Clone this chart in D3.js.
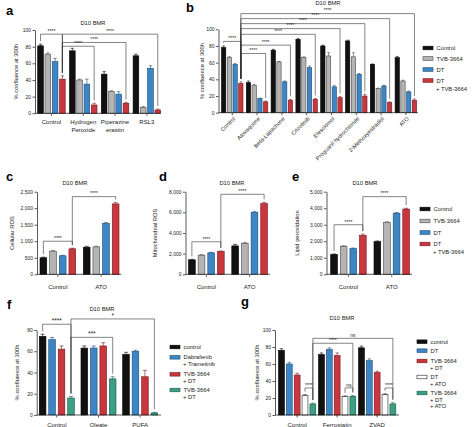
<!DOCTYPE html>
<html><head><meta charset="utf-8">
<script src="https://cdn.jsdelivr.net/npm/d3@7"></script>
<style>
body{margin:0;background:#fff}
svg{display:block;font-family:"Liberation Sans",Arial,sans-serif}
</style>
</head><body>
<svg id="chart" width="474" height="427"></svg>
<script>
// ---------- Panel a ----------
const aCategories = ["Control", "Hydrogen\nPeroxide", "Piperazine\nerastin", "RSL3"];
const aControl = [81, 75, 47, 69];
const aTVB = [71, 40, 26, 7];
const aDT = [62, 35, 23, 54];
const aDTTVB = [41, 10, 12, 4];
const aErrControl = [2, 3, 3, 2];
const aErrTVB = [1.5, 1, 1, 1];
const aErrDT = [4, 6, 3, 3];
const aErrDTTVB = [4, 2, 1, 1];
const aYTicks = [0, 20, 40, 60, 80, 100];
const aBrackets = [[0,0,0,3,95,"****"],[0,3,3,3,95,"****"],[0,3,2,3,85,"****"],[0,3,1,3,80.5,"****"]];

// ---------- Panel b ----------
const bCategories = ["Control","Atovaquone","Beta-Lapachone","Crizotinib","Elesclomol","Proguanil hydrochloride","2-Methoxyestradiol","ATO"];
const bControl = [78, 36, 75, 88, 80, 86, 58, 66];
const bTVB = [66, 33, 61, 66, 68, 67, 29, 38];
const bDT = [58, 17, 37, 54, 31, 46, 32, 25];
const bDTTVB = [35, 13, 15, 16, 18, 20, 12, 15];
const bErrControl = [2, 2, 1, 1, 1, 1, 0.5, 1.5];
const bErrTVB = [1.5, 1, 0.5, 1, 4, 5, 0.5, 1];
const bErrDT = [1, 0.5, 1, 2, 1.5, 1, 1, 1];
const bErrDTTVB = [2, 1, 1, 1, 1.5, 2, 1, 1.5];
const bYTicks = [0, 20, 40, 60, 80, 100];
const bBrackets = [[0,0,0,3,85.5,"****"],[0,3,1,3,71,"****"],[0,3,2,3,81,"****"],[0,3,3,3,94,"****"],
  [0,3,4,3,100.8,"****"],[0,3,5,3,106.8,"****"],[0,3,6,3,112.8,"****"],[0,3,7,3,118.8,"****"]];
const legendABE = ["Control", "TVB-3664", "DT", "DT\n+ TVB-3664"];

// ---------- Panel c ----------
const cdeCategories = ["Control", "ATO"];
const cControl = [500, 820];
const cTVB = [700, 830];
const cDT = [560, 1540];
const cDTTVB = [770, 2130];
const cErr = [[20, 25], [20, 20], [15, 25], [20, 40]];
const cYTicks = [0, 500, 1000, 1500, 2000, 2500];
const cBrackets = [[0,0,0,3,1000,"****"],[0,3,1,3,2350,"****"]];

// ---------- Panel d ----------
const dControl = [1400, 2750];
const dTVB = [1850, 3000];
const dDT = [2080, 6000];
const dDTTVB = [2200, 6850];
const dErr = [[50, 150], [60, 80], [50, 90], [60, 120]];
const dYTicks = [0, 2000, 4000, 6000, 8000];
const dBrackets = [[0,0,0,3,3150,"****"],[0,3,1,3,7750,"****"]];

// ---------- Panel e ----------
const eControl = [1200, 1980];
const eTVB = [1700, 3150];
const eDT = [1550, 3700];
const eDTTVB = [2350, 3950];
const eErr = [[30, 40], [30, 30], [40, 40], [80, 50]];
const eYTicks = [0, 1000, 2000, 3000, 4000, 5000];
const eBrackets = [[0,0,0,3,3000,"****"],[0,3,1,3,4700,"****"]];

// ---------- Panel f ----------
const fCategories = ["Control", "Oleate", "PUFA"];
const fControl = [74, 63, 57];
const fDabTram = [71, 63, 60];
const fTVBDTred = [62, 65, 36];
const fTVBDTgreen = [16, 34, 2];
const fErr = [[2, 2, 2], [2, 2, 1], [3, 3, 6], [1.5, 2, 0.5]];
const fYTicks = [0, 20, 40, 60, 80];
const fBrackets = [[0,0,0,3,85.4,"****"],[0,3,2,3,90.4,"*"],[0,3,1,3,73.1,"***"]];
const fLegend = ["control", "Dabrafenib\n+ Trametinib", "TVB-3664\n+ DT", "TVB-3664\n+ DT"];

// ---------- Panel g ----------
const gCategories = ["Control", "Ferrostatin", "ZVAD"];
const gControl = [76, 71, 79];
const gDT = [60, 77, 64];
const gTVBDT = [47, 70, 50];
const gDTATO = [23, 22, 24];
const gTVBDTATO = [13, 22, 13];
const gErr = [[2, 2, 2], [2, 2, 2], [2, 3, 1.5], [1, 0.5, 1], [1, 1, 1.5]];
const gYTicks = [0, 20, 40, 60, 80, 100];
const gBrackets = [[0,3,0,4,31.8,"****"],[1,3,1,4,31.8,"ns"],[2,3,2,4,31.8,"****"],[0,4,1,4,84.4,"****"],[0,4,2,4,90.2,"ns"]];
const gLegend = ["control", "DT", "TVB-3664\n+ DT", "DT\n+ ATO", "TVB-3664\n+ DT\n+ ATO"];

// ---------- styles ----------
const C = {
  black: {fill: "#111111", stroke: "#000000"},
  grey:  {fill: "#b4b4b4", stroke: "#4a4a4a"},
  blue:  {fill: "#3d86c6", stroke: "#1d4a72"},
  red:   {fill: "#c9363d", stroke: "#6e1a1e"},
  green: {fill: "#3a9f84", stroke: "#1b5a48"},
  white: {fill: "#ffffff", stroke: "#222222"}
};
const TXT = "#222";
const svg = d3.select("#chart");

function drawPanel(p) {
  const g = svg.append("g");
  const n = p.categories.length;
  const pad = (p.step - p.groupW) / p.step;
  const x = d3.scaleBand().domain(d3.range(n))
    .range([p.x0, p.x0 + p.step * (n - pad)]).paddingInner(pad).paddingOuter(0);
  const ns = p.series.length;
  const xi = d3.scaleBand().domain(d3.range(ns)).range([0, x.bandwidth()])
    .paddingInner(p.barPad).paddingOuter(0);
  const y = d3.scaleLinear().domain([0, p.yMax]).range([p.yBottom, p.yTop]);
  const bw = xi.bandwidth();
  const cx = (gi, si) => x(gi) + xi(si) + bw / 2;

  // bars + error bars
  p.series.forEach((s, si) => {
    const st = s.style;
    g.append("g").selectAll("rect").data(s.values).join("rect")
      .attr("x", (d, i) => x(i) + xi(si))
      .attr("y", d => y(d))
      .attr("width", bw)
      .attr("height", d => y(0) - y(d))
      .attr("fill", st.fill).attr("stroke", st.stroke).attr("stroke-width", 0.6);
    const eg = g.append("g").attr("stroke", st.stroke).attr("stroke-width", 0.6);
    s.values.forEach((v, i) => {
      const e = s.errors[i];
      const xc = cx(i, si);
      eg.append("line").attr("x1", xc).attr("x2", xc).attr("y1", y(v)).attr("y2", y(v + e));
      eg.append("line").attr("x1", xc - bw * 0.3).attr("x2", xc + bw * 0.3).attr("y1", y(v + e)).attr("y2", y(v + e));
    });
  });

  // y axis
  const ya = g.append("g").attr("transform", `translate(${p.axisX},0)`)
    .call(d3.axisLeft(y).tickValues(p.yTicks).tickSize(2.5).tickSizeOuter(0).tickPadding(1.5));
  ya.selectAll("path,line").attr("stroke", "#111").attr("stroke-width", 0.7);
  ya.selectAll("text").attr("font-size", 5).attr("fill", TXT).attr("font-family", "Liberation Sans, Arial, sans-serif");

  // x axis line + ticks
  g.append("line").attr("x1", p.axisX).attr("x2", p.axisEnd).attr("y1", y(0)).attr("y2", y(0))
    .attr("stroke", "#111").attr("stroke-width", 0.7);
  const xa = g.append("g").attr("transform", `translate(0,${y(0)})`)
    .call(d3.axisBottom(x).tickSize(2.5).tickSizeOuter(0).tickFormat(""));
  xa.select(".domain").remove();
  xa.selectAll(".tick").attr("transform", d => `translate(${x(d) + x.bandwidth() / 2},0)`);
  xa.selectAll("line").attr("stroke", "#111").attr("stroke-width", 0.7);

  // category labels
  p.categories.forEach((cat, i) => {
    const tx = x(i) + x.bandwidth() / 2;
    if (p.rotate) {
      g.append("text").attr("transform", `translate(${tx + 2},${y(0) + 5}) rotate(-45)`)
        .attr("text-anchor", "end").attr("dy", "0.35em")
        .attr("font-size", 5.6).attr("fill", TXT).text(cat);
    } else {
      const t = g.append("text").attr("text-anchor", "middle").attr("font-size", 6).attr("fill", TXT);
      cat.split("\n").forEach((line, li) => {
        t.append("tspan").attr("x", tx).attr("y", y(0) + p.labelOffset + li * 7.5).attr("dy", "0.35em").text(line);
      });
    }
  });

  // significance brackets
  const bg = g.append("g").attr("stroke", "#333").attr("stroke-width", 0.6).attr("fill", "none");
  p.brackets.forEach(([g1, s1, g2, s2, lvl, lab]) => {
    const x1 = cx(g1, s1), x2 = cx(g2, s2), yl = y(lvl);
    const top1 = y(p.series[s1].values[g1] + p.series[s1].errors[g1]) - 3;
    const top2 = y(p.series[s2].values[g2] + p.series[s2].errors[g2]) - 3;
    bg.append("path").attr("d", `M${x1},${top1}V${yl}H${x2}V${top2}`);
    g.append("text").attr("x", (x1 + x2) / 2).attr("y", yl - 1.2)
      .attr("text-anchor", "middle").attr("font-size", p.starSize || 5).attr("fill", TXT).text(lab);
  });

  // titles
  g.append("text").attr("x", p.titleX).attr("y", p.titleY).attr("text-anchor", "middle")
    .attr("dy", "0.35em").attr("font-size", 5.8).attr("fill", TXT).text("D10 BMR");
  g.append("text").attr("transform", `translate(${p.ylabelX},${(p.yTop + p.yBottom) / 2}) rotate(-90)`)
    .attr("text-anchor", "middle").attr("dy", "0.35em").attr("font-size", 5.8).attr("fill", TXT).text(p.ylabel);
  g.append("text").attr("x", p.letterX).attr("y", p.letterY).attr("font-size", 13)
    .attr("font-weight", "bold").attr("fill", "#000").text(p.letter);

  // legend
  if (p.legend) {
    const L = p.legend;
    L.labels.forEach((lab, i) => {
      const st = p.series[i].style;
      const yc = L.ys[i];
      g.append("rect").attr("x", L.x).attr("y", yc - 1.8).attr("width", 10).attr("height", 3.6)
        .attr("fill", st.fill).attr("stroke", st.stroke).attr("stroke-width", 0.6);
      const t = g.append("text").attr("font-size", 5.8).attr("fill", TXT);
      lab.split("\n").forEach((line, li) => {
        t.append("tspan").attr("x", L.x + 13.5 + (li > 0 ? -0.5 : 0)).attr("y", yc + li * L.lh).attr("dy", "0.35em").text(line);
      });
    });
  }
}

const ser4 = (v0, v1, v2, v3, e0, e1, e2, e3) => [
  {values: v0, errors: e0, style: C.black},
  {values: v1, errors: e1, style: C.grey},
  {values: v2, errors: e2, style: C.blue},
  {values: v3, errors: e3, style: C.red}
];

// a
drawPanel({categories: aCategories, series: ser4(aControl, aTVB, aDT, aDTTVB, aErrControl, aErrTVB, aErrDT, aErrDTTVB),
  x0: 37.7, step: 31.8, groupW: 27.5, barPad: 0.22, yMax: 100, yTop: 30, yBottom: 113.3, yTicks: aYTicks,
  axisX: 35, axisEnd: 161, labelOffset: 9, brackets: aBrackets, titleX: 93, titleY: 23,
  ylabel: "% confluence at 300h", ylabelX: 16, letter: "a", letterX: 6, letterY: 15});

// b
drawPanel({categories: bCategories, series: ser4(bControl, bTVB, bDT, bDTTVB, bErrControl, bErrTVB, bErrDT, bErrDTTVB),
  x0: 221.5, step: 24.8, groupW: 21.5, barPad: 0.25, yMax: 100, yTop: 29.3, yBottom: 112.7, yTicks: bYTicks,
  axisX: 218.5, axisEnd: 418, rotate: true, brackets: bBrackets, titleX: 328, titleY: 2.5,
  ylabel: "% confluence at 300h", ylabelX: 202, letter: "b", letterX: 186, letterY: 12,
  legend: {labels: legendABE, x: 423, ys: [48, 58.5, 69.5, 80.5], lh: 8}});

// c
drawPanel({categories: cdeCategories, series: ser4(cControl, cTVB, cDT, cDTTVB, cErr[0], cErr[1], cErr[2], cErr[3]),
  x0: 40, step: 43.3, groupW: 35.7, barPad: 0.3, yMax: 2500, yTop: 191.7, yBottom: 274.3, yTicks: cYTicks,
  axisX: 37, axisEnd: 121, labelOffset: 12.4, brackets: cBrackets, titleX: 75, titleY: 183,
  ylabel: "Cellular ROS", ylabelX: 12, letter: "c", letterX: 6, letterY: 181});

// d
drawPanel({categories: cdeCategories, series: ser4(dControl, dTVB, dDT, dDTTVB, dErr[0], dErr[1], dErr[2], dErr[3]),
  x0: 188.5, step: 43.3, groupW: 35.7, barPad: 0.3, yMax: 8000, yTop: 191.7, yBottom: 274.3, yTicks: dYTicks,
  axisX: 185.5, axisEnd: 270, labelOffset: 12.4, brackets: dBrackets, titleX: 232, titleY: 183,
  ylabel: "Mitochondrial ROS", ylabelX: 155, letter: "d", letterX: 159, letterY: 181});

// e
drawPanel({categories: cdeCategories, series: ser4(eControl, eTVB, eDT, eDTTVB, eErr[0], eErr[1], eErr[2], eErr[3]),
  x0: 330.7, step: 43.3, groupW: 35.5, barPad: 0.3, yMax: 5000, yTop: 191.7, yBottom: 274.3, yTicks: eYTicks,
  axisX: 326.5, axisEnd: 412, labelOffset: 12.4, brackets: eBrackets, titleX: 365, titleY: 183,
  ylabel: "Lipid peroxidation", ylabelX: 297, letter: "e", letterX: 292, letterY: 181,
  legend: {labels: legendABE, x: 420, ys: [209, 221, 232.5, 244], lh: 8}});

// f
drawPanel({categories: fCategories, series: [
    {values: fControl, errors: fErr[0], style: C.black},
    {values: fDabTram, errors: fErr[1], style: C.blue},
    {values: fTVBDTred, errors: fErr[2], style: C.red},
    {values: fTVBDTgreen, errors: fErr[3], style: C.green}],
  x0: 39.3, step: 41.7, groupW: 35, barPad: 0.3, yMax: 80, yTop: 330, yBottom: 415, yTicks: fYTicks,
  axisX: 36.7, axisEnd: 161, labelOffset: 9.5, brackets: fBrackets, starSize: 6.5, titleX: 102, titleY: 309,
  ylabel: "% confluence at 300h", ylabelX: 17, letter: "f", letterX: 7, letterY: 309,
  legend: {labels: fLegend, x: 170, ys: [347, 357.3, 374.3, 390], lh: 6.7}});

// g
drawPanel({categories: gCategories, series: [
    {values: gControl, errors: gErr[0], style: C.black},
    {values: gDT, errors: gErr[1], style: C.blue},
    {values: gTVBDT, errors: gErr[2], style: C.red},
    {values: gDTATO, errors: gErr[3], style: C.white},
    {values: gTVBDTATO, errors: gErr[4], style: C.green}],
  x0: 278.5, step: 40, groupW: 37.3, barPad: 0.25, yMax: 100, yTop: 330, yBottom: 415, yTicks: gYTicks,
  axisX: 275, axisEnd: 399, labelOffset: 9.5, brackets: gBrackets, titleX: 342, titleY: 318,
  ylabel: "% confluence at 300h", ylabelX: 257, letter: "g", letterX: 241, letterY: 306,
  legend: {labels: gLegend, x: 417, ys: [341.7, 350.7, 361, 377, 393], lh: 6.7}});
</script>
</body></html>
